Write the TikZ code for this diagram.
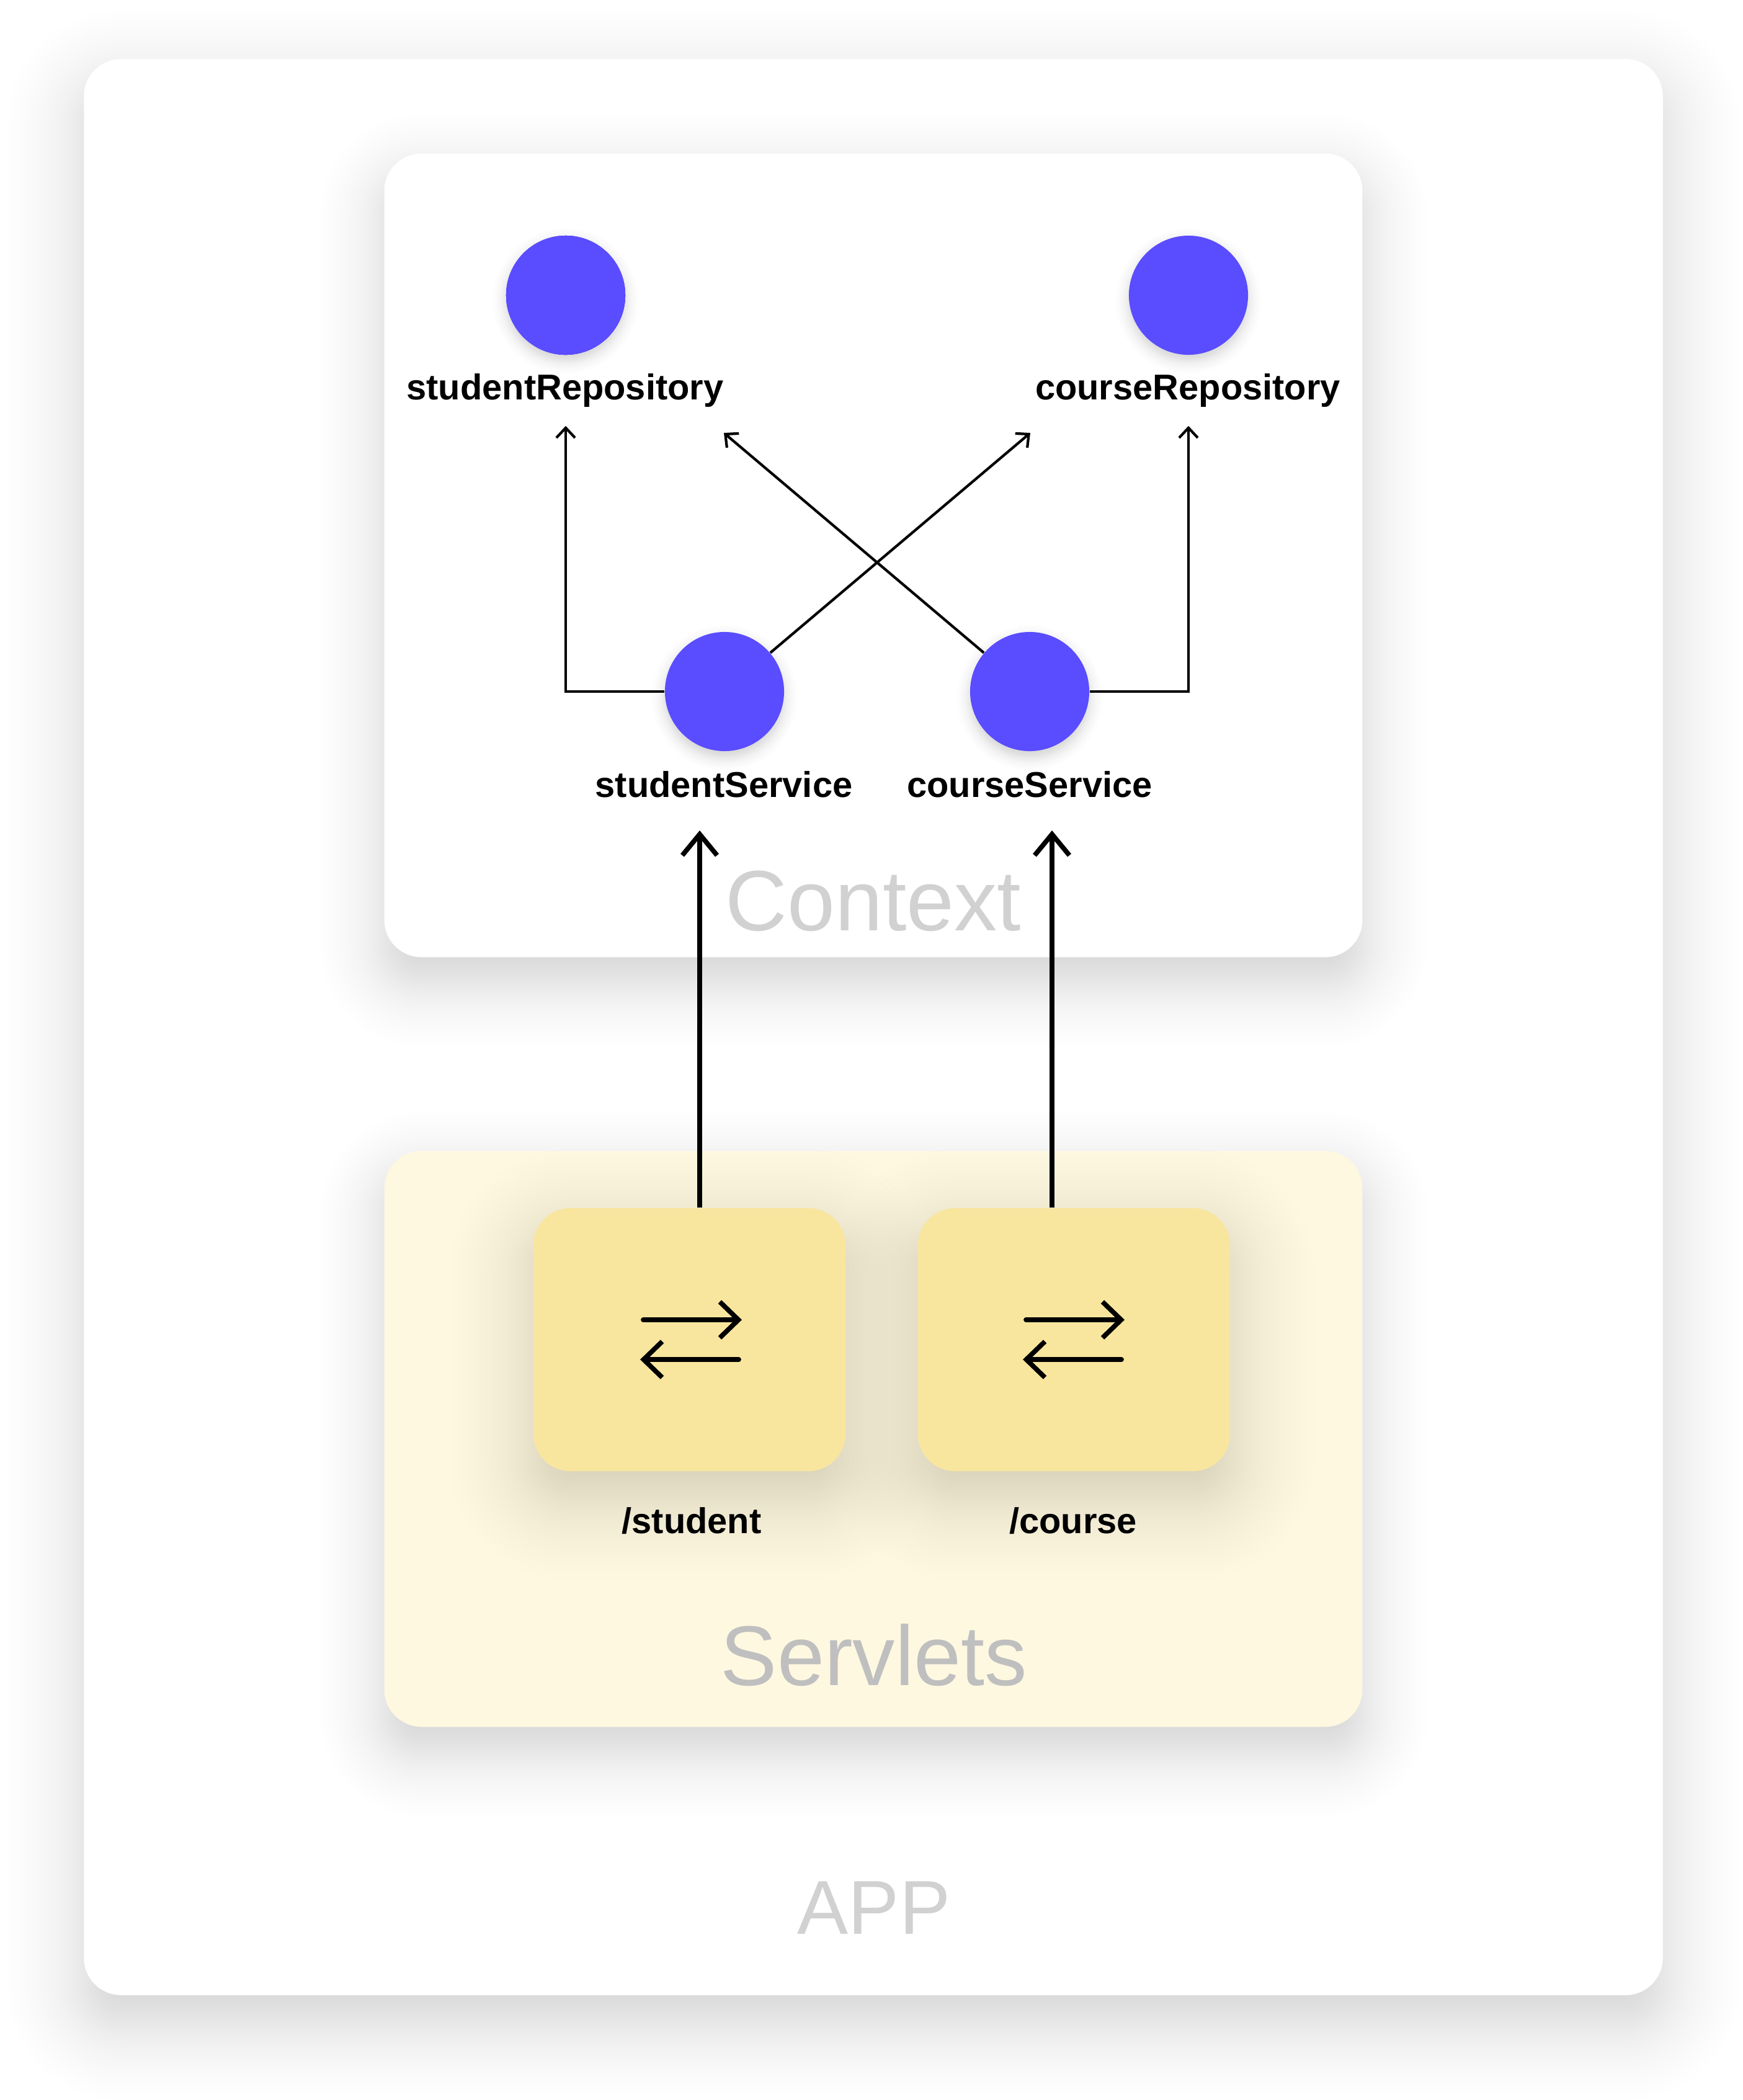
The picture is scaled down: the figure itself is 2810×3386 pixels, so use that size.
\documentclass[tikz,border=0pt]{standalone}
\usepackage{fontspec}
\setmainfont{Liberation Sans}
\usetikzlibrary{arrows.meta}
\definecolor{beanblue}{HTML}{5A4CFF}
\definecolor{servletcream}{HTML}{FEF8E1}
\definecolor{servletyellow}{HTML}{F9E69E}
\newcommand{\softshadow}[8]{%
  \foreach \i in {0,...,47} {
    \pgfmathsetmacro{\u}{2*\i/47-1}
    \pgfmathsetmacro{\e}{#6*(0.6*\u+0.4*\u*\u*\u)}
    \pgfmathsetmacro{\rr}{max(#5+\e,1)}
    \fill[black,opacity=#8,rounded corners=\rr*0.01cm]
      (#1-\e,#2-\e+#7) rectangle (#3+\e,#4+\e+#7);
  }}
\tikzset{
  panel/.style={rectangle,rounded corners=0.6cm,inner sep=0pt,minimum width=#1},
  bean/.style={circle,fill=beanblue,inner sep=0pt,minimum size=1.92cm},
  beanlabel/.style={anchor=base,inner sep=0pt,text depth=0.42cm,font=\fontsize{16.45}{20}\selectfont\bfseries},
  boxlabel/.style={anchor=base,inner sep=0pt,font=\fontsize{#1}{45}\selectfont},
  wire/.style={line width=1.2pt,-{Straight Barb[length=0.16cm,width=0.3cm]}},
  callarrow/.style={line width=2.2pt,-{Straight Barb[length=0.34cm,width=0.56cm]}},
  swaparrow/.style={line width=2.2pt,line cap=round,-{Straight Barb[length=0.3cm,width=0.58cm]}}
}
\begin{document}
\begin{tikzpicture}[x=0.01cm,y=-0.01cm]
\useasboundingbox (0,0) rectangle (2810,3386);
\fill[white] (0,0) rectangle (2810,3386);

\softshadow{136}{96}{2680}{3216}{60}{125}{45}{0.0052}
\node[panel=25.44cm,fill=white,minimum height=31.2cm] (appBox) at (1408,1656) {};
\node[boxlabel=35,text=black!18] (appLabel) at (1409,3118) {APP};

\softshadow{620}{248}{2196}{1543}{60}{105}{40}{0.0052}
\node[panel=15.76cm,fill=white,minimum height=12.95cm] (contextBox) at (1408,895.5) {};
\node[boxlabel=39.3,text=black!18] (contextLabel) at (1408,1500) {Context};

\softshadow{620}{1856}{2196}{2784}{60}{105}{40}{0.0052}
\node[panel=15.76cm,fill=servletcream,minimum height=9.28cm] (servletBox) at (1408,2320) {};
\node[boxlabel=38.9,text=black!25] (servletLabel) at (1409,2717) {Servlets};

\softshadow{860}{1948}{1363}{2372}{60}{135}{40}{0.0042}
\softshadow{1480}{1948}{1983}{2372}{60}{135}{40}{0.0042}
\node[panel=5.03cm,fill=servletyellow,minimum height=4.24cm] (studentBox) at (1111.5,2160) {};
\node[panel=5.03cm,fill=servletyellow,minimum height=4.24cm] (courseBox) at (1731.5,2160) {};
\node[beanlabel] (studentPath) at (1115,2472) {/student};
\node[beanlabel] (coursePath) at (1730,2472) {/course};

\foreach \x/\y in {912/475,1916/475,1168/1115,1660/1115}
  \softshadow{\x-96}{\y-96}{\x+96}{\y+96}{96}{22}{10}{0.004}
\node[bean] (studentRepository) at (912,476) {};
\node[bean] (courseRepository) at (1916,476) {};
\node[bean] (studentService) at (1168,1115) {};
\node[bean] (courseService) at (1660,1115) {};
\node[beanlabel] (studentRepositoryLabel) at (911,644) {studentRepository};
\node[beanlabel] (courseRepositoryLabel) at (1915,644) {courseRepository};
\node[beanlabel] (studentServiceLabel) at (1167,1285) {studentService};
\node[beanlabel] (courseServiceLabel) at (1660,1285) {courseService};

\coordinate (crossToCourse) at (1661,698);
\coordinate (crossToStudent) at (1167,698);
\coordinate (studentCall) at (1128,1339);
\coordinate (courseCall) at (1696,1339);

\draw[wire] (studentService.west) -| (studentRepository.south |- studentRepositoryLabel.south);
\draw[wire] (courseService.east) -| (courseRepository.south |- courseRepositoryLabel.south);
\draw[wire] (studentService) -- (crossToCourse);
\draw[wire] (courseService) -- (crossToStudent);
\draw[callarrow] (studentBox.north -| studentCall) -- (studentCall);
\draw[callarrow] (courseBox.north -| courseCall) -- (courseCall);

\foreach \x in {1036,1653} {
  \draw[swaparrow] (\x+1,2128) -- (\x+160,2128);
  \draw[swaparrow] (\x+155,2192) -- (\x-4,2192);
}
\end{tikzpicture}
\end{document}
